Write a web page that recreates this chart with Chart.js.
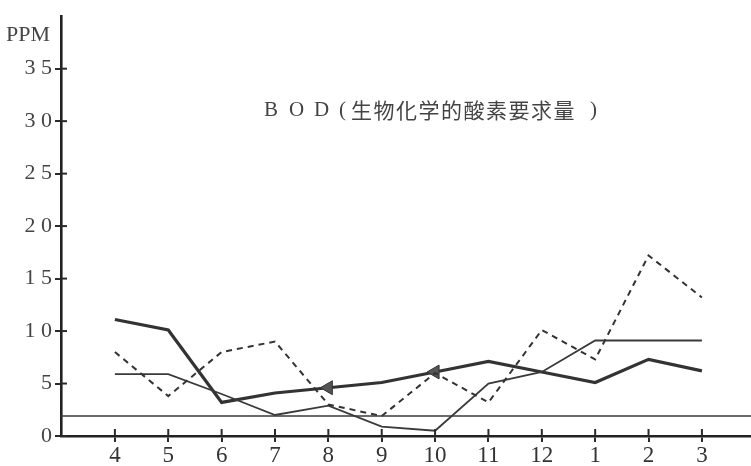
<!DOCTYPE html>
<html>
<head>
<meta charset="utf-8">
<script src="https://cdn.jsdelivr.net/npm/chart.js"></script>
<style>
  html, body { margin: 0; padding: 0; background: #fff; }
  #wrap { width: 751px; height: 466px; }
</style>
</head>
<body>
<div id="wrap"><canvas id="bod" width="751" height="466"></canvas></div>
<script>
// meses (abril -> março)
const months = ['4', '5', '6', '7', '8', '9', '10', '11', '12', '1', '2', '3'];
const yTicks = [0, 5, 10, 15, 20, 25, 30, 35];

// valores (PPM)
const thickSeries  = [11.1, 10.1, 3.2, 4.1, 4.6, 5.1, 6.1, 7.1, 6.1, 5.1, 7.3, 6.2];
const thinSeries   = [5.9, 5.9, 4.0, 2.0, 2.9, 0.9, 0.5, 5.0, 6.1, 9.1, 9.1, 9.1];
const dashedSeries = [8.0, 3.8, 8.0, 9.0, 3.0, 1.9, 6.0, 3.2, 10.1, 7.3, 17.2, 13.2];
const standardLevel = 1.9;
const arrowIdx = [4, 6]; // setas no traço grosso (meses 8 e 10)

const titleLatin = ['B', 'O', 'D', '('];
const titleKanji = '生物化学的酸素要求量';

const X_MIN = -1.01, X_MAX = 11.92;

const toPoints = arr => arr.map((v, i) => ({ x: i, y: v }));

// desenha o título, "PPM" e a parte interna das marcas dos eixos
const decorPlugin = {
  id: 'decor',
  afterDraw(chart) {
    const ctx = chart.ctx;
    const xs = chart.scales.x, ys = chart.scales.y;
    ctx.save();
    ctx.strokeStyle = '#2a2a2a';
    ctx.lineWidth = 2;
    yTicks.forEach(v => {
      const py = ys.getPixelForValue(v);
      ctx.beginPath(); ctx.moveTo(xs.left, py); ctx.lineTo(xs.left + 6, py); ctx.stroke();
    });
    months.forEach((m, i) => {
      const px = xs.getPixelForValue(i);
      ctx.beginPath(); ctx.moveTo(px, ys.bottom); ctx.lineTo(px, ys.bottom - 7); ctx.stroke();
    });

    ctx.fillStyle = '#444';
    ctx.font = '22px "Liberation Serif", serif';
    ctx.textBaseline = 'alphabetic';
    ctx.textAlign = 'left';
    ctx.fillText('PPM', 6, 41);

    // título
    ctx.font = '21px "Liberation Serif", serif';
    ctx.textBaseline = 'middle';
    titleLatin.forEach((c, i) => ctx.fillText(c, 264 + i * 25, 110));
    ctx.font = '21px "Noto Sans CJK JP", sans-serif';
    ctx.letterSpacing = '1.5px';
    ctx.fillText(titleKanji, 351, 110);
    ctx.letterSpacing = '0px';
    ctx.font = '21px "Liberation Serif", serif';
    ctx.fillText(')', 590, 110);
    ctx.restore();
  }
};

new Chart(document.getElementById('bod').getContext('2d'), {
  type: 'line',
  data: {
    datasets: [
      {
        data: [{ x: X_MIN, y: standardLevel }, { x: X_MAX, y: standardLevel }],
        borderColor: '#3a3a3a', borderWidth: 1.6, pointRadius: 0
      },
      {
        data: toPoints(dashedSeries),
        borderColor: '#333', borderWidth: 2, borderDash: [6, 5],
        pointRadius: 0, tension: 0
      },
      {
        data: toPoints(thinSeries),
        borderColor: '#3a3a3a', borderWidth: 1.8, pointRadius: 0, tension: 0
      },
      {
        data: toPoints(thickSeries),
        borderColor: '#333', borderWidth: 3.2, tension: 0,
        pointStyle: 'triangle', rotation: 270,
        pointRadius: thickSeries.map((v, i) => arrowIdx.includes(i) ? 8 : 0),
        pointBackgroundColor: '#555', pointBorderColor: '#333', pointBorderWidth: 1
      }
    ]
  },
  options: {
    responsive: false,
    animation: false,
    layout: { padding: { top: 8, right: 0, left: 0, bottom: 0 } },
    plugins: { legend: { display: false }, tooltip: { enabled: false } },
    scales: {
      x: {
        type: 'linear', min: X_MIN, max: X_MAX,
        afterFit: s => { s.height = 30; },
        afterBuildTicks: s => { s.ticks = months.map((m, i) => ({ value: i })); },
        grid: { drawOnChartArea: false, drawTicks: true, tickLength: 6, lineWidth: 2, color: '#2a2a2a' },
        border: { display: true, width: 2.6, color: '#222' },
        ticks: {
          padding: 0, color: '#333',
          font: { family: '"Liberation Serif", serif', size: 23 },
          callback: v => months[v]
        }
      },
      y: {
        type: 'linear', min: 0, max: 40,
        afterFit: s => { s.width = 61; },
        afterBuildTicks: s => { s.ticks = yTicks.map(v => ({ value: v })); },
        grid: { drawOnChartArea: false, drawTicks: true, tickLength: 6, lineWidth: 2, color: '#2a2a2a' },
        border: { display: true, width: 2.6, color: '#222' },
        ticks: {
          padding: 3, color: '#444',
          font: { family: '"Liberation Serif", serif', size: 22 },
          callback: v => String(v).split('').join(' ')
        }
      }
    }
  },
  plugins: [decorPlugin]
});
</script>
</body>
</html>
